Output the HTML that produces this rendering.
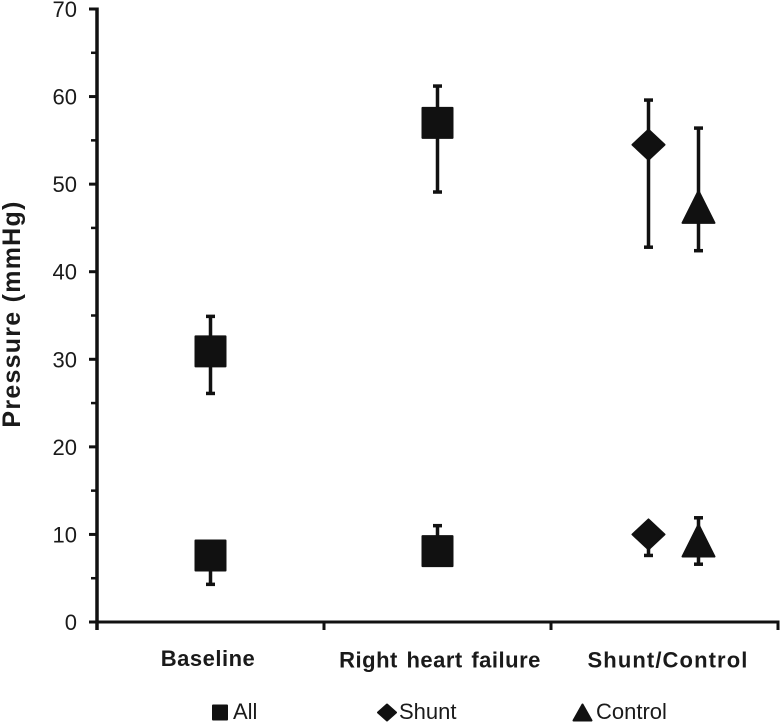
<!DOCTYPE html>
<html>
<head>
<meta charset="utf-8">
<style>
html,body{margin:0;padding:0;background:#fff;}
svg{display:block;}
text{font-family:"Liberation Sans",Arial,sans-serif;fill:#1a1a1a;}
</style>
</head>
<body>
<svg id="chart" width="780" height="722" viewBox="0 0 780 722" xmlns="http://www.w3.org/2000/svg">
<text transform="translate(20,314) rotate(-90)" text-anchor="middle" font-size="25" font-weight="bold" letter-spacing="1.25">Pressure (mmHg)</text>
</svg>
<script>
const categories = ['Baseline', 'Right heart failure', 'Shunt/Control'];
const yTickLabels = [0, 10, 20, 30, 40, 50, 60, 70];
const yMinorTicks = [5, 15, 25, 35, 45, 55, 65];
const legendLabels = ['All', 'Shunt', 'Control'];
// [category index, mean, error high, error low]; null = whisker hidden behind marker
const allUpper = [[0, 30.9, 34.9, 26.1], [1, 57.0, 61.2, 49.1]];
const allLower = [[0, 7.6, null, 4.3], [1, 8.1, 11.0, null]];
const shuntUpper = [[2, 54.5, 59.6, 42.8]];
const shuntLower = [[2, 10.0, null, 7.6]];
const controlUpper = [[2, 47.4, 56.4, 42.4]];
const controlLower = [[2, 9.3, 11.9, 6.6]];

const svg = document.getElementById('chart');
const NS = 'http://www.w3.org/2000/svg';
const INK = '#111';
const X0 = 97, X1 = 778, Y0 = 622, Y70 = 9;
function yScale(v) { return Y0 - (v / 70) * (Y0 - Y70); }
function bandCenter(i) { return X0 + (X1 - X0) * (i + 0.5) / categories.length; }
function bandEdge(i) { return X0 + (X1 - X0) * i / categories.length; }
function xScale(i, series) {
  const dodge = series === 'shunt' ? -16 : series === 'control' ? 34 : 0;
  return bandCenter(i) + dodge;
}
function make(tag, attrs, parent) {
  const el = document.createElementNS(NS, tag);
  for (const k in attrs) el.setAttribute(k, attrs[k]);
  (parent || svg).appendChild(el);
  return el;
}
function line(x1, y1, x2, y2, w) {
  return make('line', { x1: x1, y1: y1, x2: x2, y2: y2, stroke: INK, 'stroke-width': w });
}
function markerShape(kind, cx, cy, big) {
  const attrs = { fill: INK, stroke: INK, 'stroke-width': 2, 'stroke-linejoin': 'round' };
  if (kind === 'all') {
    const h = big ? 15 : 7;
    attrs.points = [[cx - h, cy - h], [cx + h, cy - h], [cx + h, cy + h], [cx - h, cy + h]].join(' ');
  } else if (kind === 'shunt') {
    const w = big ? 16 : 9, hh = big ? 15 : 8;
    attrs.points = [[cx, cy - hh], [cx + w, cy], [cx, cy + hh], [cx - w, cy]].join(' ');
  } else {
    const w = big ? 16 : 9, up = big ? 16 : 8, down = big ? 16 : 8;
    attrs.points = [[cx, cy - up], [cx + w, cy + down], [cx - w, cy + down]].join(' ');
  }
  return make('polygon', attrs);
}
function drawSeries(rows, kind, prefix) {
  rows.forEach(function (r, idx) {
    const cx = xScale(r[0], kind);
    const cy = yScale(r[1]);
    const top = r[2] === null ? cy : yScale(r[2]);
    const bottom = r[3] === null ? cy : yScale(r[3]);
    const stem = line(cx, top, cx, bottom, 3.5);
    
    
    if (r[2] !== null) {
      const capHigh = line(cx - 4.5, top, cx + 4.5, top, 3.5);
      
      
    }
    if (r[3] !== null) {
      const capLow = line(cx - 4.5, bottom, cx + 4.5, bottom, 3.5);
      
      
    }
    const m = markerShape(kind, cx, cy, true);
    
    
  });
}

// y axis
const yAxis = line(X0, Y70 - 1.5, X0, Y0 + 8, 3.5);


yTickLabels.forEach(function (v) {
  const t = line(89, yScale(v), X0, yScale(v), 3);
  
  
  const lbl = make('text', { x: 77, y: yScale(v) + 8, 'text-anchor': 'end', 'font-size': 22 });
  lbl.textContent = v;
  
  
});
yMinorTicks.forEach(function (v) {
  const t = line(91, yScale(v), X0, yScale(v), 2.5);
  
  
});

// x axis
const xAxis = line(X0, Y0, X1 + 1.5, Y0, 3);


for (let i = 1; i <= categories.length; i++) {
  const t = line(bandEdge(i), Y0, bandEdge(i), Y0 + 8, 3);
  
  
}
const labelCenters = [208, 440, 668];
const labelBaselines = [666, 667.5, 667.5];
const labelSpacing = [0.5, 0.5, 1.1];
categories.forEach(function (c, i) {
  const lbl = make('text', { x: labelCenters[i], y: labelBaselines[i], 'text-anchor': 'middle', 'font-size': 22, 'font-weight': 'bold', 'word-spacing': 2, 'letter-spacing': labelSpacing[i] });
  lbl.textContent = c;
  
  
});

// series
drawSeries(allUpper, 'all', 'all-upper');
drawSeries(allLower, 'all', 'all-lower');
drawSeries(shuntUpper, 'shunt', 'shunt-upper');
drawSeries(shuntLower, 'shunt', 'shunt-lower');
drawSeries(controlUpper, 'control', 'control-upper');
drawSeries(controlLower, 'control', 'control-lower');

// legend
const legendKinds = ['all', 'shunt', 'control'];
const legendMarkerX = [220, 387, 582.5];
const legendTextX = [233, 399, 596];
legendLabels.forEach(function (name, i) {
  const m = markerShape(legendKinds[i], legendMarkerX[i], 712.5, false);
  
  
  const t = make('text', { x: legendTextX[i], y: 719, 'font-size': 22 });
  t.textContent = name;
  
  
});
</script>
</body>
</html>
